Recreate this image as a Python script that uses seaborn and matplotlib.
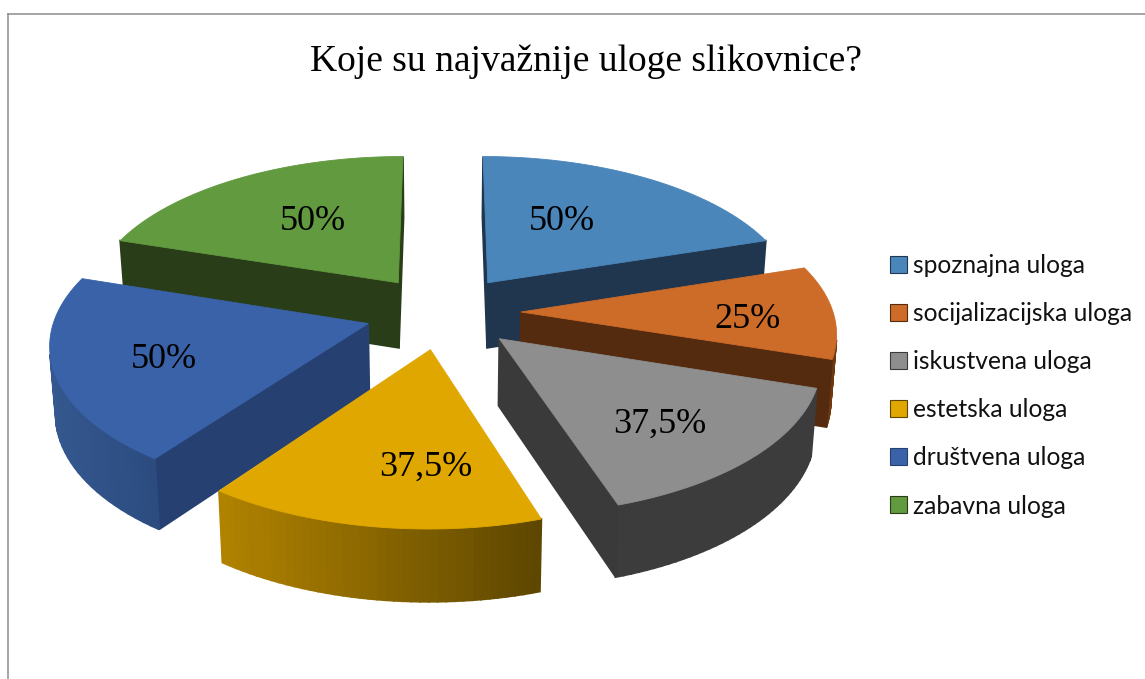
"""
    Exploded 3D pie: Koje su najvaznije uloge slikovnice?
    Matplotlib has no pie with perspective, so each slice is
    projected by hand and drawn as polygons on the pixel-sized axes.
"""
import numpy as np
import seaborn as sns
from matplotlib import pyplot as plt
from matplotlib.patches import Patch, Polygon

title = "Koje su najvažnije uloge slikovnice?"
categories = ["spoznajna uloga", "socijalizacijska uloga", "iskustvena uloga",
              "estetska uloga", "društvena uloga", "zabavna uloga"]
values = [50, 25, 37.5, 37.5, 50, 50]
valueLabels = ["50%", "25%", "37,5%", "37,5%", "50%", "50%"]

topColors = ["#4b86bb", "#cd6b28", "#8e8e8e", "#dfa700", "#3a62a8", "#619a3f"]
wallColors = ["#20364e", "#552b10", "#3a3a3a", "#5e4700", "#264072", "#293d19"]
rimColors = [["#20364e", "#20364e"], ["#7a3f14", "#6e3810"], ["#3c3c3c", "#3c3c3c"],
             ["#b08200", "#5e4700"], ["#34588f", "#2c4c80"], ["#2f4a1d", "#2f4a1d"]]

# label centres in pixels
labelPos = [(562, 222), (748, 319), (660, 424), (426, 467), (164, 360), (313, 222)]

# projection settings
CX, CY = 443, 312
RX, RY = 312, 148
PERSP = 0.12
DEPTH = 66
EXPLODE = 0.25
BOTTOM_SCALE = 0.985


def project(x, y, bottom=False):
    w = 1 + PERSP * y
    px = CX + RX * x / w
    py = CY - RY * y / w
    if bottom:
        px = CX + (px - CX) * BOTTOM_SCALE
        py = py + DEPTH / w ** 0.6
    return np.column_stack([px, py])


def signedArea(quad):
    x, y = quad[:, 0], quad[:, 1]
    return np.sum(x * np.roll(y, -1) - np.roll(x, -1) * y)


def drawSlice(ax, start, sweep, idx):
    # angles run clockwise from north
    mid = np.radians(start + sweep / 2)
    ox, oy = EXPLODE * np.sin(mid), EXPLODE * np.cos(mid)
    ang = np.radians(np.linspace(start, start + sweep, 40))
    xs = np.r_[ox, ox + np.sin(ang)]
    ys = np.r_[oy, oy + np.cos(ang)]
    top = project(xs, ys)
    bot = project(xs, ys, bottom=True)

    rimLeft = top[1:, 0].min()
    rimRight = top[1:, 0].max()
    shades = sns.blend_palette(rimColors[idx], 40)
    n = len(xs)
    for i in range(n):
        j = (i + 1) % n
        quad = np.array([top[i], top[j], bot[j], bot[i]])
        if signedArea(quad) >= 0:
            continue
        if i == 0 or j == 0:
            color = wallColors[idx]
        else:
            frac = (quad[:, 0].mean() - rimLeft) / max(rimRight - rimLeft, 1)
            color = shades[int(np.clip(frac, 0, 0.999) * 40)]
        ax.add_patch(Polygon(quad, closed=True, facecolor=color, edgecolor=color, linewidth=1.3))
    ax.add_patch(Polygon(top, closed=True, facecolor=topColors[idx], edgecolor=topColors[idx], linewidth=0.6))


sns.set_theme(style="white")
plt.rcParams["font.family"] = ["Liberation Serif", "DejaVu Serif"]

fig = plt.figure(figsize=(11.45, 6.79), dpi=100)
ax = fig.add_axes([8 / 1145, 0, 1 - 8 / 1145, 1 - 14 / 679])
ax.set_xlim(8, 1145)
ax.set_ylim(679, 14)
ax.set_xticks([])
ax.set_yticks([])
for side in ["right", "bottom"]:
    ax.spines[side].set_visible(False)
for side in ["top", "left"]:
    ax.spines[side].set_color("#8c8c8c")
    ax.spines[side].set_linewidth(1.1)

sweeps = 360 * np.array(values) / np.sum(values)
starts = np.r_[0, np.cumsum(sweeps)[:-1]]
# back slices first so the front ones cover them
order = np.argsort(-np.cos(np.radians(starts + sweeps / 2)), kind="stable")
for i in order:
    drawSlice(ax, starts[i], sweeps[i], i)

for label, (lx, ly) in zip(valueLabels, labelPos):
    ax.text(lx, ly, label, fontsize=26, color="black", ha="center", va="center")

ax.text(586, 62, title, fontsize=27, color="black", ha="center", va="center")

handles = [Patch(facecolor=c, edgecolor=w, linewidth=0.8) for c, w in zip(topColors, wallColors)]
leg = ax.legend(handles, categories, loc="upper left", bbox_to_anchor=(868 / 1145, 1 - 232 / 679),
                bbox_transform=fig.transFigure, frameon=False,
                labelspacing=1.02, handlelength=0.69, handleheight=0.69, handletextpad=0.25,
                prop={"family": "Lato", "size": 17.7})
for text in leg.get_texts():
    text.set_color("#111111")

fig.savefig("out.png", dpi=100)
